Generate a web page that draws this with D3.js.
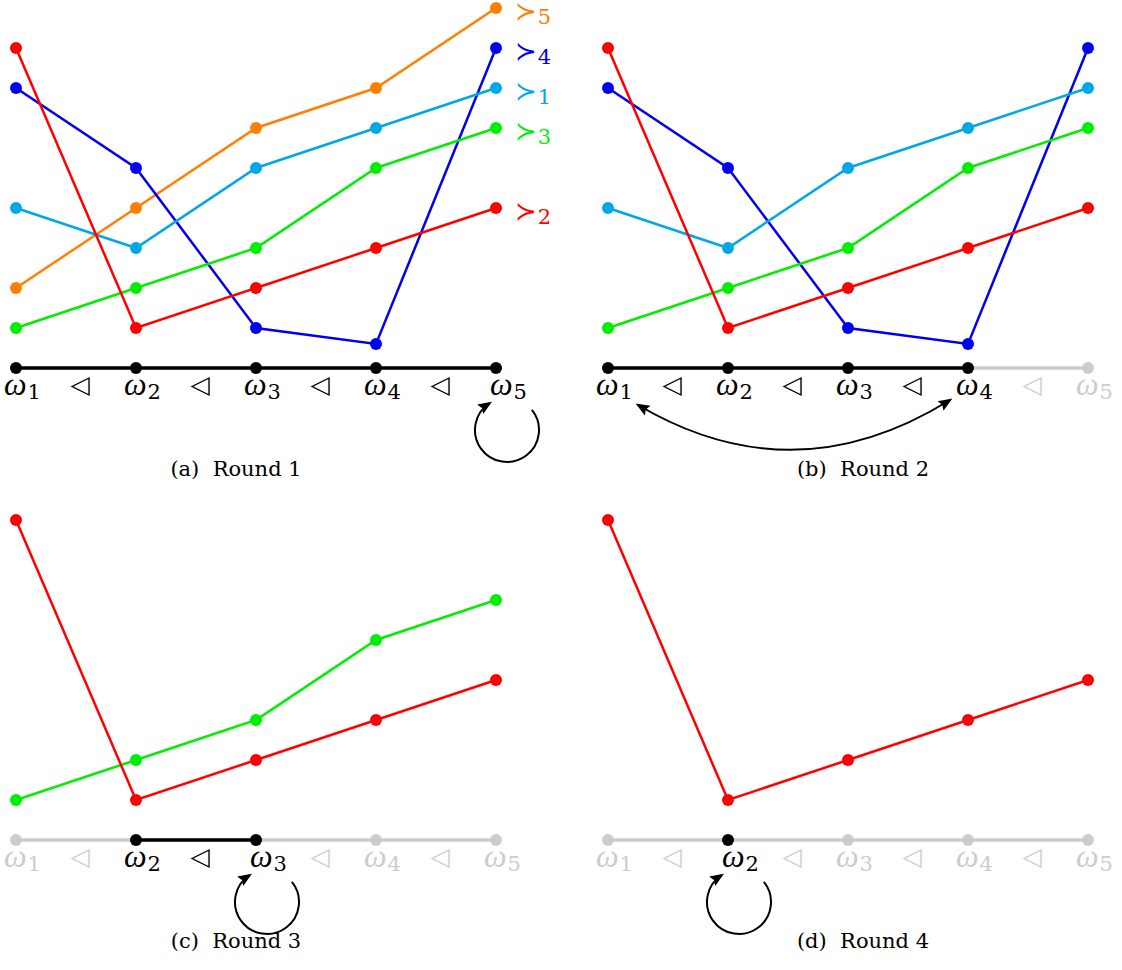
<!DOCTYPE html>
<html>
<head>
<meta charset="utf-8">
<script src="https://cdn.jsdelivr.net/npm/d3@7"></script>
<style>
  body { margin: 0; background: #fff; }
  text { font-family: "DejaVu Serif", "Liberation Serif", serif; }
</style>
</head>
<body>
<svg id="chart"></svg>
<script>
// Data
const states = ["1", "2", "3", "4", "5"];
const pref1 = [4, 3, 5, 6, 7];     // cyan
const pref2 = [8, 1, 2, 3, 4];     // red
const pref3 = [1, 2, 3, 5, 6];     // green
const pref4 = [7, 5, 1, 0.6, 8];   // blue
const pref5 = [2, 4, 6, 7, 9];     // orange

const series = [
  { id: 5, values: pref5, color: "#ff8000" },
  { id: 4, values: pref4, color: "#0000f0" },
  { id: 1, values: pref1, color: "#00a8e8" },
  { id: 3, values: pref3, color: "#00ee00" },
  { id: 2, values: pref2, color: "#ff0000" }
];

const rounds = [
  { caption: "(a)  Round 1", shown: [5, 4, 1, 3, 2], active: [0, 1, 2, 3, 4], loop: 4, labels: true },
  { caption: "(b)  Round 2", shown: [4, 1, 3, 2], active: [0, 1, 2, 3], swap: [0, 3] },
  { caption: "(c)  Round 3", shown: [3, 2], active: [1, 2], loop: 2 },
  { caption: "(d)  Round 4", shown: [2], active: [1], loop: 1 }
];

const width = 1122, height = 970;
const gray = "#cccccc";

const svg = d3.select("#chart").attr("width", width).attr("height", height);

svg.append("defs").append("marker")
  .attr("id", "arrow")
  .attr("viewBox", "0 0 10 10")
  .attr("refX", 8).attr("refY", 5)
  .attr("markerWidth", 14).attr("markerHeight", 14)
  .attr("markerUnits", "userSpaceOnUse")
  .attr("orient", "auto-start-reverse")
  .append("path")
  .attr("d", "M0,1 L10,5 L0,9 L1.5,5 Z")
  .attr("fill", "#000");

const x = d3.scalePoint().domain(states).range([16, 496]);
const y = d3.scaleLinear().domain([0, 9]).range([368, 8]);

const offsets = [[0, 0], [592, 0], [0, 472], [592, 472]];

const line = d3.line().x((d, i) => x(states[i])).y(d => y(d));

rounds.forEach((r, k) => {
  const g = svg.append("g").attr("transform", `translate(${offsets[k][0]},${offsets[k][1]})`);
  const isActive = i => r.active.includes(i);

  // preference lines
  r.shown.forEach(id => {
    const s = series.find(d => d.id === id);
    g.append("path").datum(s.values)
      .attr("d", line).attr("fill", "none")
      .attr("stroke", s.color).attr("stroke-width", 2.5);
    g.selectAll(null).data(s.values).join("circle")
      .attr("cx", (d, i) => x(states[i])).attr("cy", d => y(d))
      .attr("r", 6).attr("fill", s.color);
    if (r.labels) {
      const t = g.append("text")
        .attr("x", x(states[4]) + 19).attr("y", y(s.values[4]) + 12)
        .attr("fill", s.color).style("font-family", "DejaVu Sans");
      t.append("tspan").attr("font-size", 26).text("≻");
      t.append("tspan").attr("font-size", 21).attr("dx", 1).attr("dy", 4)
        .style("font-family", "DejaVu Serif").text(id);
    }
  });

  // axis
  const y0 = y(0);
  g.append("line").attr("x1", x(states[0])).attr("x2", x(states[4]))
    .attr("y1", y0).attr("y2", y0).attr("stroke", gray).attr("stroke-width", 3.5);
  if (r.active.length > 1) {
    g.append("line")
      .attr("x1", x(states[d3.min(r.active)])).attr("x2", x(states[d3.max(r.active)]))
      .attr("y1", y0).attr("y2", y0).attr("stroke", "#000").attr("stroke-width", 3.5);
  }
  g.selectAll(null).data(states).join("circle")
    .attr("cx", d => x(d)).attr("cy", y0).attr("r", 6)
    .attr("fill", (d, i) => isActive(i) ? "#000" : gray);

  // state labels
  states.forEach((s, i) => {
    const t = g.append("text")
      .attr("x", x(s) - 12 + (r.loop === i ? 6 : 0)).attr("y", y0 + 27)
      .attr("fill", isActive(i) ? "#000" : gray);
    t.append("tspan").attr("font-size", 32).attr("font-style", "italic")
      .style("font-family", "Liberation Serif").text("ω");
    t.append("tspan").attr("font-size", 21).attr("dx", 1).attr("dy", 4).text(s);
    if (i < 4) {
      g.append("text")
        .attr("x", (x(s) + x(states[i + 1])) / 2 + 4).attr("y", y0 + 25)
        .attr("text-anchor", "middle").attr("font-size", 25)
        .style("font-family", "DejaVu Sans")
        .attr("fill", isActive(i) && isActive(i + 1) ? "#000" : gray)
        .text("◁");
    }
  });

  // self loop
  if (r.loop !== undefined) {
    const cx = x(states[r.loop]) + 11, cy = y0 + 62, rad = 32;
    const p = d3.path();
    p.arc(cx, cy, rad, -39 * Math.PI / 180, 237 * Math.PI / 180);
    g.append("path").attr("d", p.toString()).attr("fill", "none")
      .attr("stroke", "#000").attr("stroke-width", 2)
      .attr("marker-end", "url(#arrow)");
  }

  // swap arrow
  if (r.swap) {
    const xa = x(states[r.swap[0]]) + 30, xb = x(states[r.swap[1]]) - 18;
    const p = d3.path();
    p.moveTo(xa, y0 + 37);
    p.quadraticCurveTo((xa + xb) / 2, y0 + 129, xb, y0 + 32);
    g.append("path").attr("d", p.toString()).attr("fill", "none")
      .attr("stroke", "#000").attr("stroke-width", 2)
      .attr("marker-start", "url(#arrow)").attr("marker-end", "url(#arrow)");
  }

  // caption
  g.append("text").attr("x", k % 2 === 0 ? 236 : 271).attr("y", y0 + 108)
    .attr("text-anchor", "middle").attr("font-size", 21)
    .style("font-family", "DejaVu Serif").style("white-space", "pre")
    .text(r.caption);
});
</script>
</body>
</html>
